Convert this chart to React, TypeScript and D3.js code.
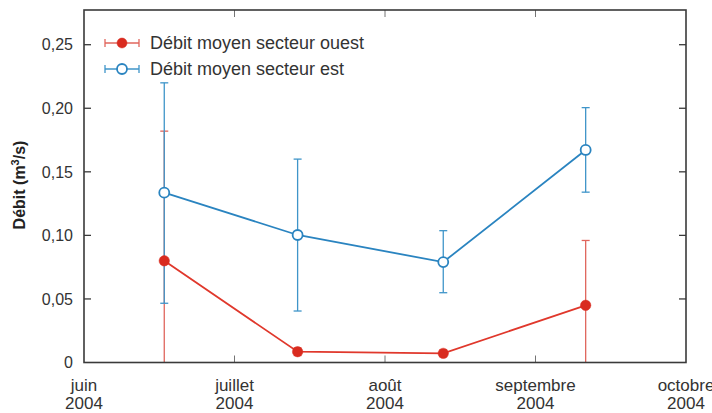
import React from "react";
import * as d3 from "d3";

const monthLabels = ["juin", "juillet", "août", "septembre", "octobre"];
const yearLabel = "2004";
const sampleDates = ["2004-06-17", "2004-07-14", "2004-08-13", "2004-09-11"];

const ouestMean = [0.080, 0.0085, 0.0072, 0.045];
const ouestLow = [-0.022, 0.0055, 0.0045, -0.006];
const ouestHigh = [0.182, 0.0115, 0.0099, 0.096];

const estMean = [0.1336, 0.1003, 0.079, 0.1672];
const estLow = [0.0466, 0.0405, 0.0549, 0.134];
const estHigh = [0.220, 0.160, 0.1037, 0.2005];

const yTicks = [0, 0.05, 0.1, 0.15, 0.2, 0.25];
const legendLabels = ["Débit moyen secteur ouest", "Débit moyen secteur est"];

const W = 712, H = 413;
const L = 84, R = 686, T = 10, B = 362.5;

function monthPos(s: string) {
  const d = new Date(s + "T00:00:00");
  const m = d.getMonth() - 5; // June = 0
  const days = new Date(d.getFullYear(), d.getMonth() + 1, 0).getDate();
  return m + (d.getDate() - 1) / days;
}

export default function App() {
  const x = d3.scaleLinear().domain([0, 4]).range([L, R]);
  const y = d3.scaleLinear().domain([0, 0.2773]).range([B, T]);
  const xs = sampleDates.map(monthPos);
  const fmt = (v: number) => (v === 0 ? "0" : d3.format(".2f")(v).replace(".", ","));
  const line = d3.line<[number, number]>().x((d) => x(d[0])).y((d) => y(d[1]));
  const font = "'Liberation Sans', Arial, Helvetica, sans-serif";
  const axisCol = "#3a3a3a";

  const series = [
    { mean: ouestMean, low: ouestLow, high: ouestHigh, line: "#e0382c", err: "#e0665d", mark: "#d92b1f", filled: true },
    { mean: estMean, low: estLow, high: estHigh, line: "#2a84c0", err: "#3f95c9", mark: "#2a84c0", filled: false },
  ];

  const errBars = (s: typeof series[0], k: number) =>
    s.mean.map((_, i) => {
      const cx = x(xs[i]);
      const lo = Math.max(0, s.low[i]);
      const hi = s.high[i];
      return (
        <g key={`e${k}-${i}`} stroke={s.err} strokeWidth={1.3}>
          <line x1={cx} x2={cx} y1={y(lo)} y2={y(hi)} />
          <line x1={cx - 4} x2={cx + 4} y1={y(hi)} y2={y(hi)} />
          {s.low[i] >= 0 && <line x1={cx - 4} x2={cx + 4} y1={y(lo)} y2={y(lo)} />}
        </g>
      );
    });

  return (
    <svg width={W} height={H} style={{ position: "absolute", left: 0, top: 0 }} fontFamily={font}>
      <rect width={W} height={H} fill="#fff" />
      {errBars(series[0], 0)}
      {errBars(series[1], 1)}
      {series.map((s, k) => (
        <g key={`s${k}`}>
          <path d={line(s.mean.map((v, i) => [xs[i], v]))!} fill="none" stroke={s.line} strokeWidth={1.8} />
          {s.mean.map((v, i) => (
            <circle key={i} cx={x(xs[i])} cy={y(v)} r={s.filled ? 5.2 : 5}
              fill={s.filled ? s.mark : "#fff"} stroke={s.mark} strokeWidth={s.filled ? 0.5 : 1.8} />
          ))}
        </g>
      ))}
      <rect x={L} y={T} width={R - L} height={B - T} fill="none" stroke={axisCol} strokeWidth={1.6} />
      {yTicks.map((t) => (
        <g key={`y${t}`}>
          {t > 0 && <line x1={L} x2={L + 7} y1={y(t)} y2={y(t)} stroke={axisCol} strokeWidth={1.3} />}
          {t > 0 && <line x1={R - 7} x2={R} y1={y(t)} y2={y(t)} stroke={axisCol} strokeWidth={1.3} />}
          <text x={73} y={y(t)} dy="0.36em" textAnchor="end" fontSize={16} fill="#333">{fmt(t)}</text>
        </g>
      ))}
      {monthLabels.map((m, i) => (
        <g key={`x${i}`}>
          {i > 0 && i < 4 && (
            <>
              <line x1={x(i)} x2={x(i)} y1={B} y2={B - 7} stroke={axisCol} strokeWidth={1} opacity={0.7} />
              <line x1={x(i)} x2={x(i)} y1={T} y2={T + 7} stroke={axisCol} strokeWidth={1} opacity={0.7} />
            </>
          )}
          <text x={x(i)} y={391} textAnchor="middle" fontSize={17} fill="#333">{m}</text>
          <text x={x(i)} y={409} textAnchor="middle" fontSize={17} fill="#333">{yearLabel}</text>
        </g>
      ))}
      <text transform={`translate(25,185) rotate(-90)`} textAnchor="middle" fontSize={16} fontWeight="bold" fill="#222">
        Débit (m<tspan dy={-6} fontSize={11}>3</tspan><tspan dy={6}>/s)</tspan>
      </text>
      {series.map((s, k) => {
        const ly = 43 + k * 26;
        return (
          <g key={`l${k}`}>
            <line x1={105} x2={139} y1={ly} y2={ly} stroke={s.err} strokeWidth={1.3} />
            <line x1={105} x2={105} y1={ly - 4} y2={ly + 4} stroke={s.err} strokeWidth={1.3} />
            <line x1={139} x2={139} y1={ly - 4} y2={ly + 4} stroke={s.err} strokeWidth={1.3} />
            <circle cx={122} cy={ly} r={5} fill={s.filled ? s.mark : "#fff"} stroke={s.mark} strokeWidth={s.filled ? 0.5 : 1.8} />
            <text x={150} y={ly} dy="0.36em" fontSize={18} fill="#333">{legendLabels[k]}</text>
          </g>
        );
      })}
    </svg>
  );
}
